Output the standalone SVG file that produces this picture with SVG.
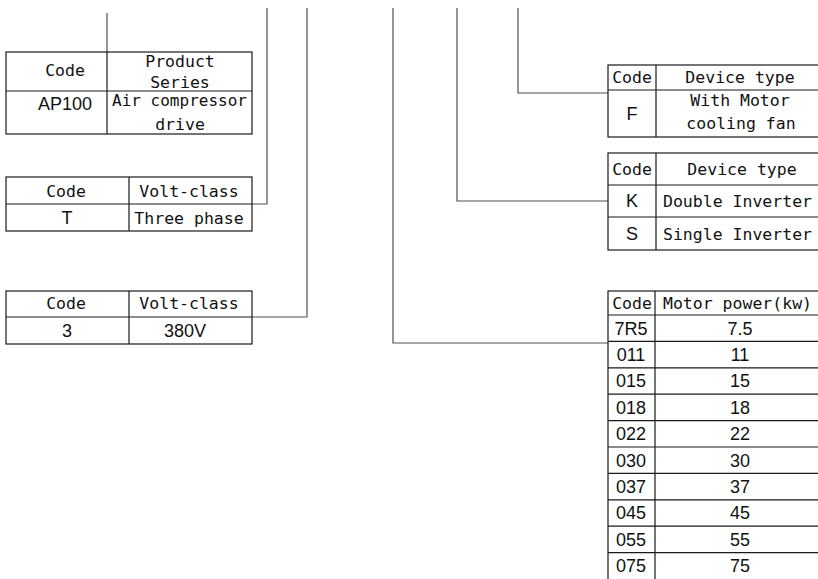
<svg xmlns="http://www.w3.org/2000/svg" width="818" height="579" viewBox="0 0 818 579">
<style>
.bg{fill:#fff}
.tb{fill:none;stroke:#1a1a1a;stroke-width:1.2}
.cn{fill:none;stroke:#505050;stroke-width:1.2}
.m{font-family:"DejaVu Sans Mono","Liberation Mono",monospace;font-size:16.5px;fill:#111;text-anchor:middle}
.ms{font-family:"DejaVu Sans Mono","Liberation Mono",monospace;font-size:16.5px;fill:#111;text-anchor:start}
.a{font-family:"Liberation Sans",Arial,sans-serif;font-size:18px;fill:#111;text-anchor:middle}
</style>
<rect class="bg" x="0" y="0" width="818" height="579"/>
<g id="connectors">
<path class="cn" d="M107,13 V52"/>
<path class="cn" d="M267,8 V204 H252"/>
<path class="cn" d="M307,8 V317 H252"/>
<path class="cn" d="M393,8 V343 H608"/>
<path class="cn" d="M457,8 V201 H608"/>
<path class="cn" d="M518,8 V93 H608"/>
</g>
<g id="product-series">
<rect class="tb" x="6" y="52" width="246" height="82"/>
<path class="tb" d="M6,91 H252 M107,52 V134"/>
<text class="m" x="65" y="76">Code</text>
<text class="m" x="180" y="67">Product</text>
<text class="m" x="180" y="88">Series</text>
<text class="a" x="65" y="110">AP100</text>
<text class="ms" x="112" y="106" textLength="135" lengthAdjust="spacingAndGlyphs">Air compressor</text>
<text class="m" x="180" y="130">drive</text>
</g>
<g id="phase">
<rect class="tb" x="6" y="177" width="246" height="54"/>
<path class="tb" d="M6,204 H252 M129,177 V231"/>
<text class="m" x="66" y="197">Code</text>
<text class="m" x="189" y="197">Volt-class</text>
<text class="a" x="67" y="224">T</text>
<text class="m" x="189" y="224">Three phase</text>
</g>
<g id="voltage">
<rect class="tb" x="6" y="291" width="246" height="53"/>
<path class="tb" d="M6,317 H252 M129,291 V344"/>
<text class="m" x="66" y="309">Code</text>
<text class="m" x="189" y="309">Volt-class</text>
<text class="a" x="67" y="337">3</text>
<text class="a" x="185" y="337">380V</text>
</g>
<g id="fan">
<rect class="tb" x="608" y="65" width="230" height="72"/>
<path class="tb" d="M608,90 H838 M656,65 V137"/>
<text class="m" x="632" y="83">Code</text>
<text class="m" x="740" y="83">Device type</text>
<text class="a" x="632" y="120">F</text>
<text class="m" x="740" y="106">With Motor</text>
<text class="m" x="741" y="129">cooling fan</text>
</g>
<g id="inverter">
<rect class="tb" x="608" y="153" width="230" height="97"/>
<path class="tb" d="M608,185 H838 M608,217 H838 M656,153 V250"/>
<text class="m" x="632" y="175">Code</text>
<text class="m" x="742" y="175">Device type</text>
<text class="a" x="632" y="207">K</text>
<text class="ms" x="663" y="207">Double Inverter</text>
<text class="a" x="632" y="240">S</text>
<text class="ms" x="663" y="240">Single Inverter</text>
</g>
<g id="motor-power">
<rect class="tb" x="608" y="291" width="230" height="300"/>
<path class="tb" d="M655,291 V591 M608,315 H838 M608,341.4 H838 M608,367.8 H838 M608,394.2 H838 M608,420.6 H838 M608,447 H838 M608,473.4 H838 M608,499.8 H838 M608,526.2 H838 M608,552.6 H838"/>
<text class="m" x="632" y="309">Code</text>
<text class="ms" x="663" y="309">Motor power(kw)</text>
<text class="a" x="631" y="334.6">7R5</text><text class="a" x="740" y="334.6">7.5</text>
<text class="a" x="631" y="361">011</text><text class="a" x="740" y="361">11</text>
<text class="a" x="631" y="387.4">015</text><text class="a" x="740" y="387.4">15</text>
<text class="a" x="631" y="413.8">018</text><text class="a" x="740" y="413.8">18</text>
<text class="a" x="631" y="440.2">022</text><text class="a" x="740" y="440.2">22</text>
<text class="a" x="631" y="466.6">030</text><text class="a" x="740" y="466.6">30</text>
<text class="a" x="631" y="493">037</text><text class="a" x="740" y="493">37</text>
<text class="a" x="631" y="519.4">045</text><text class="a" x="740" y="519.4">45</text>
<text class="a" x="631" y="545.8">055</text><text class="a" x="740" y="545.8">55</text>
<text class="a" x="631" y="572.2">075</text><text class="a" x="740" y="572.2">75</text>
</g>
</svg>
